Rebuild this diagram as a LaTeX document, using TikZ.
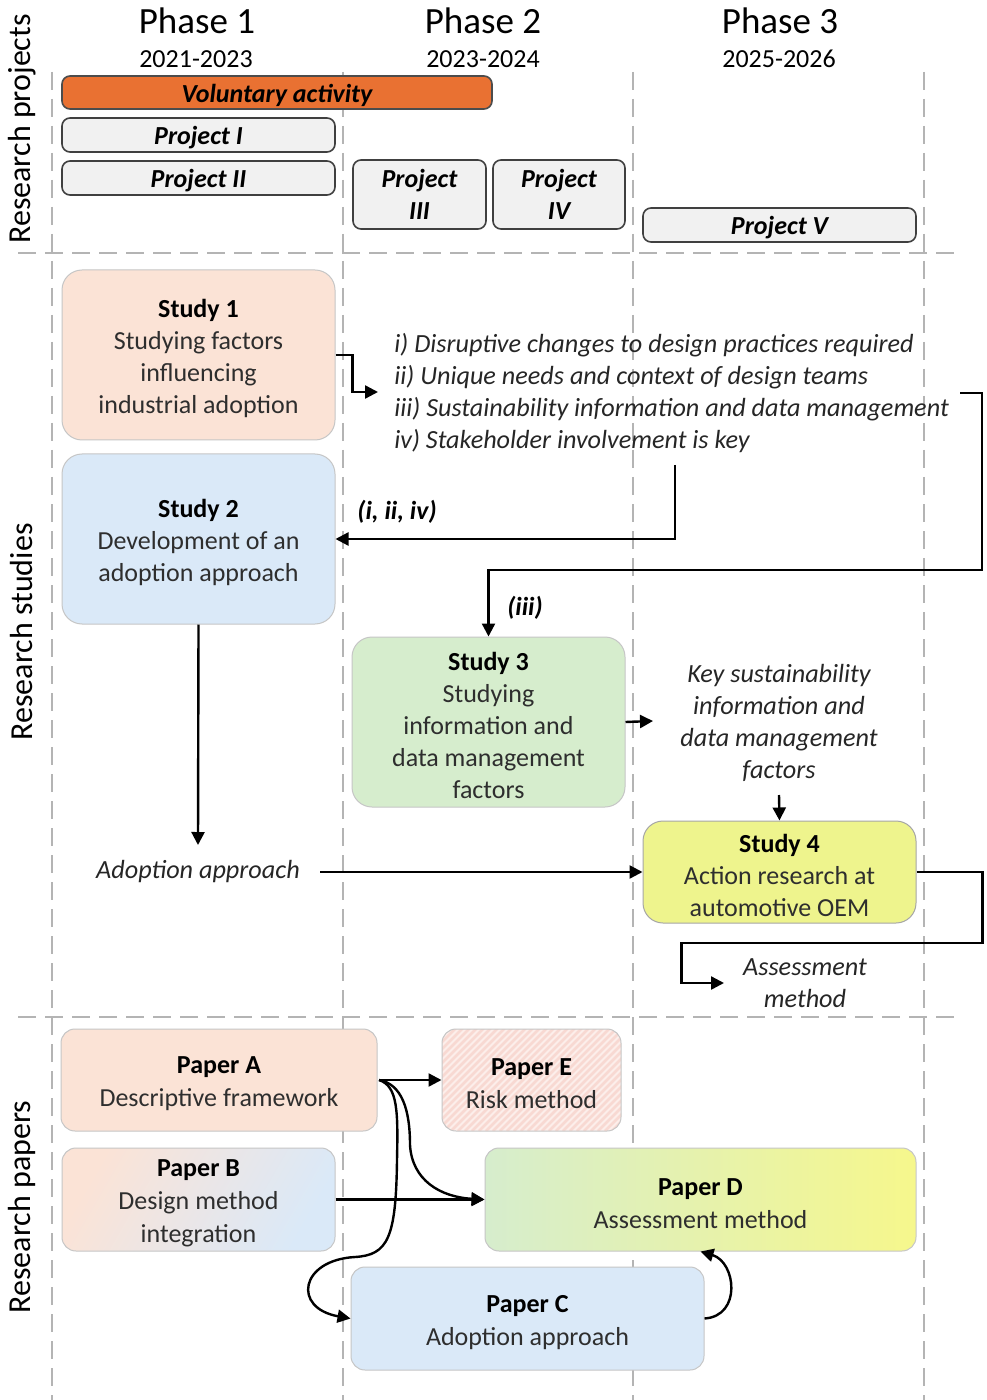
\documentclass[tikz,border=0pt]{standalone}
\usepackage{fontspec}
\setmainfont{Carlito}
\usetikzlibrary{arrows.meta}

\definecolor{actorange}{HTML}{E97132}
\definecolor{peach}{HTML}{FBE3D6}
\definecolor{skyblue}{HTML}{DAE9F8}
\definecolor{mint}{HTML}{D6EDCD}
\definecolor{lemon}{HTML}{EEF48D}
\definecolor{lemonr}{HTML}{F6F78C}
\definecolor{projgray}{HTML}{F1F1F1}
\definecolor{stripepink}{HTML}{F8D9D2}
\definecolor{stripebase}{HTML}{FCEEEA}
\definecolor{guide}{HTML}{B4B4B4}

% bold box heading with a little extra room above it
\newcommand\boxtitle[1]{{\bfseries\color{black}\rule{0pt}{12.5pt}#1}}

\begin{document}
\begin{tikzpicture}[x=0.5pt,y=-0.5pt,
  guideline/.style={draw=guide,line width=0.9pt,dash pattern=on 9pt off 4.5pt},
  projbox/.style={draw=black!75,fill=projgray,line width=0.8pt,rounded corners=4pt,
    font=\fontsize{13}{16}\selectfont\bfseries\itshape,align=center,inner sep=0pt},
  oneline/.style={execute at begin node={\rule{0pt}{12pt}}},
  studybox/.style={draw=gray!45,line width=0.5pt,rounded corners=10pt,align=center,
    font=\fontsize{13}{16}\selectfont,text=black!82,inner sep=0pt,
    minimum width=136.5pt},
  paperbox/.style={draw=gray!45,line width=0.5pt,rounded corners=7pt,align=center,
    font=\fontsize{13}{16.5}\selectfont,text=black!82,inner sep=0pt},
  note/.style={font=\fontsize{13.1}{16}\selectfont\itshape,text=black!85,inner sep=0pt},
  tag/.style={font=\fontsize{13}{16}\selectfont\bfseries\itshape,inner sep=0pt},
  rowlabel/.style={rotate=90,font=\fontsize{16}{18}\selectfont,inner sep=0pt},
  phase/.style={font=\fontsize{18.5}{20}\selectfont,inner sep=0pt},
  years/.style={font=\fontsize{13}{15}\selectfont,inner sep=0pt},
  conn/.style={line width=1.2pt,-{Triangle[length=6.5pt,width=6.5pt]}},
]
\useasboundingbox (0,0) rectangle (986,1400);
\fill[white] (0,0) rectangle (986,1400);

% phase columns and row separators
\foreach \gx in {52,343,633,924}
  \draw[guideline] (\gx,72) -- (\gx,1400);
\draw[guideline] (18,253) -- (962,253);
\draw[guideline] (18,1017) -- (962,1017);

% row labels
\node[rowlabel] (rowproj) at (22,129) {Research projects};
\node[rowlabel] (rowstud) at (22,632) {Research studies};
\node[rowlabel] (rowpap) at (22,1207) {Research papers};

% phase headings
\node[phase] (ph1) at (197,21) {Phase 1};
\node[years] (yr1) at (196,59) {2021-2023};
\node[phase] (ph2) at (483,21) {Phase 2};
\node[years] (yr2) at (483,59) {2023-2024};
\node[phase] (ph3) at (780,21) {Phase 3};
\node[years] (yr3) at (779,59) {2025-2026};

% research projects
\node[projbox,oneline,fill=actorange,draw=black!70,minimum width=215pt,minimum height=16.5pt] (vol) at (277,92.5) {Voluntary activity};
\node[projbox,oneline,minimum width=136.5pt,minimum height=17pt] (pI) at (198.5,135) {Project I};
\node[projbox,oneline,minimum width=136.5pt,minimum height=17pt] (pII) at (198.5,178) {Project II};
\node[projbox,minimum width=66.5pt,minimum height=34.5pt] (pIII) at (419.5,194.5) {Project\\III};
\node[projbox,minimum width=66pt,minimum height=34.5pt] (pIV) at (559,194.5) {Project\\IV};
\node[projbox,oneline,minimum width=136.5pt,minimum height=17pt] (pV) at (779.5,225) {Project V};

% research studies
\node[studybox,fill=peach,minimum height=85pt] (s1) at (198.5,355)
  {\boxtitle{Study 1}\\Studying factors\\influencing\\industrial adoption};
\node[studybox,fill=skyblue,minimum height=85pt] (s2) at (198.5,539)
  {\boxtitle{Study 2}\\Development of an\\adoption approach};
\node[studybox,fill=mint,minimum height=85pt] (s3) at (488.5,722)
  {\boxtitle{Study 3}\\Studying\\information and\\data management\\factors};
\node[studybox,fill=lemon,draw=gray!70,minimum height=51pt] (s4) at (779.5,872)
  {\boxtitle{Study 4}\\Action research at\\automotive OEM};

% findings of study 1
\node[note,anchor=west,align=left] (findings) at (394,393)
  {i) Disruptive changes to design practices required\\
   ii) Unique needs and context of design teams\\
   iii) Sustainability information and data management\\
   iv) Stakeholder involvement is key};
\node[tag] (tagA) at (397,512) {(i, ii, iv)};
\node[tag] (tagB) at (525,608) {(iii)};

\node[note,align=center] (keyfac) at (779,723)
  {Key sustainability\\information and\\data management\\factors};
\node[note] (adopt) at (198,872) {Adoption approach};
\node[note,align=center] (assess) at (805,983) {Assessment\\method};

\coordinate (fin) at (378,392);
\coordinate (ivout) at (675,465);
\coordinate (iiiout) at (960,393);
\coordinate (adtip) at (198,845);
\coordinate (adout) at (320,872);
\coordinate (keytip) at (653,721);
\coordinate (keyout) at (779,795);
\coordinate (astip) at (724,983);

\draw[conn] (s1.east) -- ++(17,0) |- (fin);
\draw[conn] (ivout) |- (s2.east);
\draw[conn] (iiiout) -- ++(22,0) -- ++(0,177) -| (s3.north);
\draw[conn] (s2.south) -- (adtip);
\draw[conn] (adout) -- (s4.west);
\draw[conn] (s3.east) -- (keytip);
\draw[conn] (keyout) -- (s4.north);
\draw[conn] (s4.east) -- ++(66,0) -- ++(0,71) -| ++(-301,40) -- (astip);

% research papers
\begin{scope}
  \clip[rounded corners=7pt] (442,1029) rectangle (621,1131);
  \fill[stripebase] (442,1029) rectangle (621,1131);
  \foreach \k in {0,...,42}
    \draw[stripepink,line width=1.3pt] (332+\k*7,1131) -- ++(110,-110);
\end{scope}
\node[paperbox,fill=peach,minimum width=158pt,minimum height=51pt] (pA) at (219,1080)
  {\boxtitle{Paper A}\\Descriptive framework};
\node[paperbox,minimum width=89.5pt,minimum height=51pt] (pE) at (531.5,1080)
  {\boxtitle{Paper E}\\Risk method};
\node[paperbox,left color=peach,right color=skyblue,shading angle=60,minimum width=136.5pt,minimum height=51.5pt] (pB) at (198.5,1199.5)
  {\boxtitle{Paper B}\\Design method\\integration};
\node[paperbox,left color=mint,right color=lemonr,minimum width=215.5pt,minimum height=51.5pt] (pD) at (700.5,1199.5)
  {\boxtitle{Paper D}\\Assessment method};
\node[paperbox,fill=skyblue,minimum width=176.5pt,minimum height=51.5pt] (pC) at (527.5,1318.5)
  {\boxtitle{Paper C}\\Adoption approach};

\coordinate (aout) at (379,1080);
\draw[conn] (aout) -- (pE.west);
\draw[conn] (aout) .. controls (402,1084) and (410,1110) .. (410,1145)
  .. controls (412,1180) and (440,1197) .. (pD.west);
\draw[conn] (pB.east) -- (pD.west);
\draw[conn] (aout) .. controls (398,1086) and (398,1112) .. (397,1160)
  .. controls (396,1238) and (388,1255) .. (355,1257)
  .. controls (300,1260) and (292,1308) .. (pC.west);
\draw[conn] (pC.east) .. controls (742,1316) and (736,1262) .. (pD.south);
\end{tikzpicture}
\end{document}
